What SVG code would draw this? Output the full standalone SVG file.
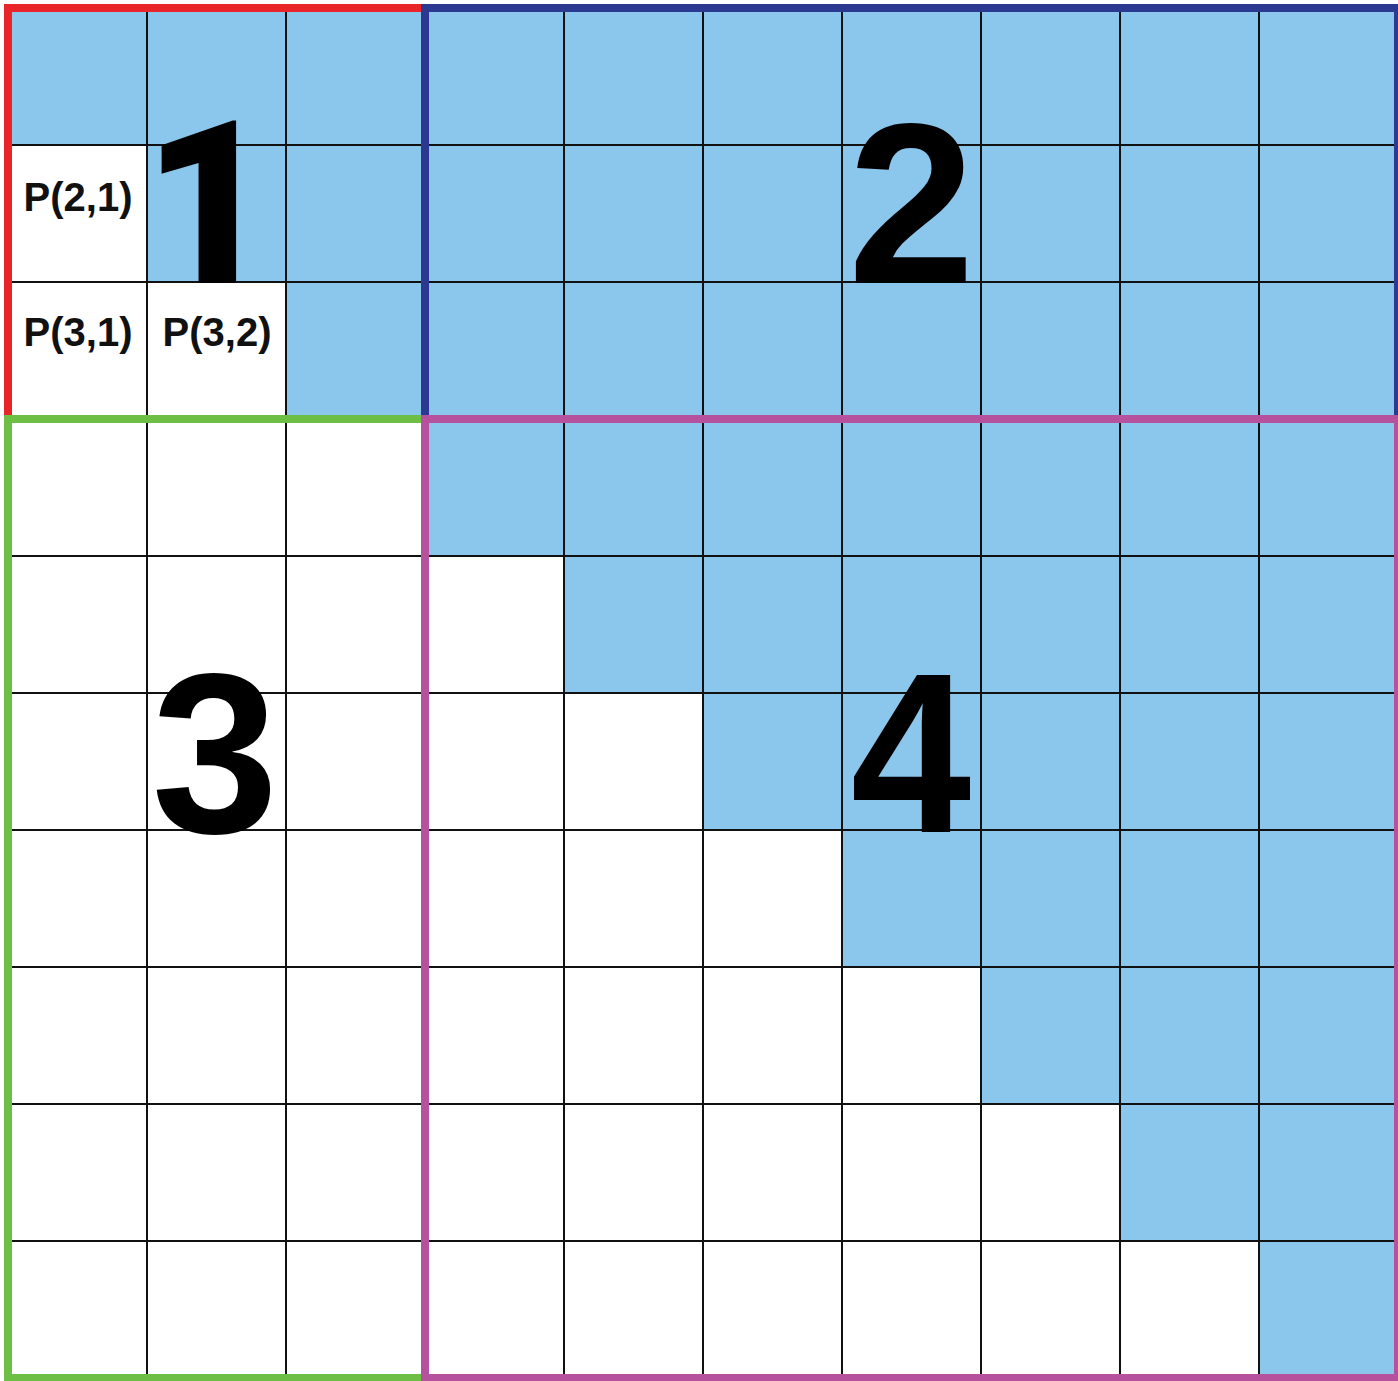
<svg xmlns="http://www.w3.org/2000/svg" width="1398" height="1381" viewBox="0 0 1398 1381">
<style>
.b{fill:#8BC6EC}
.g{stroke:#111;stroke-width:2;fill:none}
.big{font-family:"Liberation Sans",Arial,sans-serif;font-weight:bold;font-size:228px;fill:#000;text-anchor:middle}
.one{font-family:Roboto,"Liberation Sans",sans-serif;font-weight:900}
.lbl{font-family:"Liberation Sans",Arial,sans-serif;font-weight:bold;font-size:40px;fill:#111;text-anchor:middle}
.q{fill:none;stroke-width:8}
</style>
<rect x="0" y="0" width="1398" height="1381" fill="#fff"/>
<g id="cells">
<path class="b" d="M8 8H1398V1378H1259V1241H1120V1104H981V967H842V830H703V693H564V556H425V419H286V282H147V145H8Z"/>
</g>
<g id="grid" class="g">
<path d="M147 8V1378M286 8V1378M425 8V1378M564 8V1378M703 8V1378M842 8V1378M981 8V1378M1120 8V1378M1259 8V1378"/>
<path d="M8 145H1398M8 282H1398M8 419H1398M8 556H1398M8 693H1398M8 830H1398M8 967H1398M8 1104H1398M8 1241H1398"/>
</g>
<g id="labels">
<text class="lbl" x="78" y="211">P(2,1)</text>
<text class="lbl" x="78" y="346">P(3,1)</text>
<text class="lbl" x="217" y="346">P(3,2)</text>
</g>
<g id="block1">
<rect class="q" x="8" y="8" width="417" height="411" stroke="#E8262A"/>
<text class="big one" x="209" y="283">1</text>
</g>
<g id="block2">
<rect class="q" x="425" y="8" width="973" height="411" stroke="#2B3990"/>
<text class="big" x="911.5" y="283">2</text>
</g>
<g id="block3">
<rect class="q" x="8" y="419" width="417" height="959" stroke="#6CBE45"/>
<text class="big" x="215" y="832">3</text>
</g>
<g id="block4">
<rect class="q" x="425" y="419" width="973" height="959" stroke="#B5519D"/>
<text class="big" x="911" y="832" transform="translate(911 0) scale(0.95 1) translate(-911 0)">4</text>
</g>
</svg>
